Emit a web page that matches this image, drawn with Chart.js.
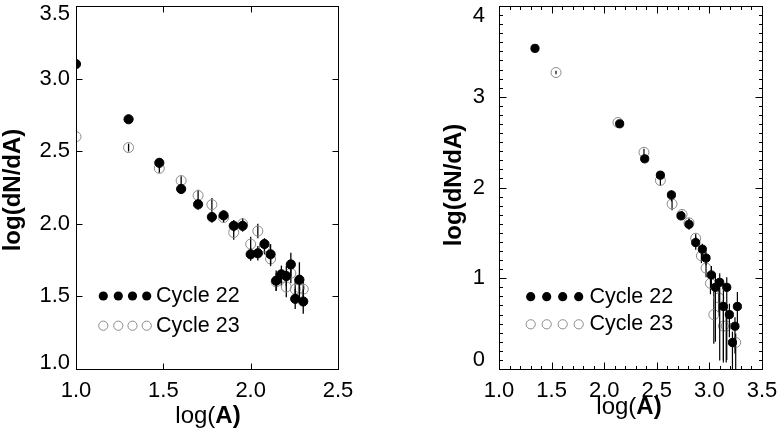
<!DOCTYPE html>
<html><head><meta charset="utf-8">
<script src="https://cdn.jsdelivr.net/npm/chart.js@4/dist/chart.umd.min.js"></script>
<style>
html,body{margin:0;padding:0;background:#fff;}
#wrap{position:relative;width:779px;height:431px;overflow:hidden;}
canvas{position:absolute;left:0;top:0;}
</style></head><body>
<div id="wrap"><canvas id="c1" width="779" height="431" style="width:779px;height:431px"></canvas><canvas id="c2" width="779" height="431" style="width:779px;height:431px"></canvas></div>
<script>
// ---------- Left panel data ----------
const leftLogA      = [1.000,1.301,1.477,1.602,1.699,1.778,1.845,1.903,1.954,2.000,2.041,2.079,2.114,2.146,2.176,2.204,2.230,2.255,2.279,2.301];
const leftCycle22   = [3.10,2.72,2.42,2.24,2.134,2.047,2.058,1.986,1.986,1.79,1.797,1.861,1.79,1.608,1.652,1.64,1.72,1.483,1.615,1.465];
const leftCycle22Er = [0,0.005,0.01,0.034,0.037,0.04,0.034,0.04,0.04,0.045,0.05,0.04,0.07,0.07,0.06,0.07,0.08,0.07,0.12,0.085];
const leftCycle23   = [2.60,2.525,2.382,2.298,2.195,2.132,2.043,1.94,2.00,1.86,1.95,1.84,1.758,1.60,1.63,1.565,1.66,1.55,1.56,1.55];
const leftCycle23Er = [0,0.027,0.03,0.03,0.04,0.045,0.035,0.05,0.04,0.05,0.05,0.05,0.05,0.06,0.06,0.07,0.07,0.07,0.08,0.07];

// ---------- Right panel data ----------
const rightLogA22     = [1.342,2.147,2.385,2.534,2.639,2.730,2.806,2.870,2.933,2.968,3.019,3.057,3.098,3.133,3.165,3.190,3.219,3.243,3.266];
const rightCycle22    = [3.533,2.702,2.316,2.136,1.918,1.688,1.594,1.393,1.320,1.222,1.036,0.900,0.955,0.689,0.900,0.599,0.292,0.471,0.689];
const rightCycle22Up  = [0,0.01,0.03,0.03,0.05,0.04,0.06,0.07,0.06,0.07,0.10,0.15,0.10,0.18,0.11,0.12,0.12,0.10,0.16];
const rightCycle22Dn  = [0,0.01,0.03,0.04,0.07,0.05,0.06,0.08,0.07,0.08,0.12,0.60,0.86,0.59,0.80,0.25,0.45,0.30,0.22];
const rightLogA23     = [1.542,2.131,2.378,2.534,2.645,2.740,2.806,2.870,2.924,2.968,3.010,3.042,3.090,3.133,3.160,3.250];
const rightCycle23    = [3.267,2.716,2.388,2.078,1.819,1.703,1.611,1.441,1.247,1.112,0.944,0.599,0.784,0.473,0.473,0.292];
const rightCycle23Up  = [0.02,0.01,0.04,0.05,0.06,0.04,0.05,0.05,0.07,0.08,0.10,0.27,0.15,0.20,0.20,0.10];
const rightCycle23Dn  = [0.02,0.01,0.04,0.06,0.07,0.04,0.05,0.06,0.08,0.10,0.12,0.32,0.20,0.40,0.40,0.30];

// ---------- Tick labels ----------
const leftXTicks  = [1.0,1.5,2.0,2.5];
const leftXLabels = ['1.0','1.5','2.0','2.5'];
const leftYTicks  = [1.0,1.5,2.0,2.5,3.0,3.5];
const leftYLabels = ['1.0','1.5','2.0','2.5','3.0','3.5'];
const rightXTicks  = [1.0,1.5,2.0,2.5,3.0,3.5];
const rightXLabels = ['1.0','1.5','2.0','2.5','3.0','3.5'];
const rightYTicks  = [0,1,2,3,4];
const rightYLabels = ['0','1','2','3','4'];
const seriesNames = ['Cycle 22','Cycle 23'];
const xTitle = ['log(', 'A)'];
const yTitle = 'log(dN/dA)';

const FONT = "'Liberation Sans', Arial, Helvetica, sans-serif";

function pts(xs, ys){ return xs.map((x,i)=>({x:x, y:ys[i]})); }

const panelPlugin = {
  id: 'panel',
  beforeDatasetDraw(chart, args) {
    const ds = chart.data.datasets[args.index];
    if (!ds.errUp) return;
    const ctx = chart.ctx, a = chart.chartArea, xs = chart.scales.x, ys = chart.scales.y;
    ctx.save();
    ctx.beginPath(); ctx.rect(a.left, a.top, a.right - a.left, a.bottom - a.top); ctx.clip();
    ctx.strokeStyle = '#000'; ctx.lineWidth = ds.errWidth || 1.2;
    ds.data.forEach((p, i) => {
      const up = ds.errUp[i], dn = ds.errDown[i];
      if (!up && !dn) return;
      const px = xs.getPixelForValue(p.x);
      ctx.beginPath();
      ctx.moveTo(px, ys.getPixelForValue(p.y + up));
      ctx.lineTo(px, ys.getPixelForValue(p.y - dn));
      ctx.stroke();
    });
    ctx.restore();
  },
  afterDraw(chart, args, o) {
    const ctx = chart.ctx, a = chart.chartArea, xs = chart.scales.x, ys = chart.scales.y;
    const L = Math.round(a.left)+0.5, R = Math.round(a.right)+0.5, T = Math.round(a.top)+0.5, B = Math.round(a.bottom)+0.5;
    ctx.save();
    ctx.strokeStyle = '#000'; ctx.lineWidth = 1;
    ctx.strokeRect(L, T, R-L, B-T);
    const line = (x1,y1,x2,y2) => { ctx.beginPath(); ctx.moveTo(x1,y1); ctx.lineTo(x2,y2); ctx.stroke(); };
    const xTick = (v, len) => { const px = Math.round(xs.getPixelForValue(v))+0.5; if (px <= L+1 || px >= R-1) return; line(px,B,px,B-len); line(px,T,px,T+len); };
    const yTick = (v, len) => { const py = Math.round(ys.getPixelForValue(v))+0.5; if (py <= T+1 || py >= B-1) return; line(L,py,L+len,py); line(R,py,R-len,py); };
    o.xTicks.forEach(v => xTick(v, o.majorLen));
    o.yTicks.forEach(v => yTick(v, o.majorLen));
    if (o.minorStep) {
      const nx = Math.round((xs.max - xs.min)/o.minorStep);
      for (let k=1;k<nx;k++){ const v = xs.min + k*o.minorStep; if (Math.abs(v/0.5 - Math.round(v/0.5))>1e-6) xTick(v, o.minorLen); }
      const ny = Math.round((ys.max - ys.min)/o.minorStep);
      for (let k=1;k<ny;k++){ const v = ys.min + k*o.minorStep; if (Math.abs(v - Math.round(v))>1e-6) yTick(v, o.minorLen); }
    }
    // tick labels
    ctx.fillStyle = '#000';
    ctx.font = o.tickFont + 'px ' + FONT;
    ctx.textAlign = 'center'; ctx.textBaseline = 'middle';
    o.xTicks.forEach((v,i) => ctx.fillText(o.xLabels[i], xs.getPixelForValue(v), o.xLabelY));
    ctx.textAlign = 'right';
    o.yTicks.forEach((v,i) => {
      let py = ys.getPixelForValue(v);
      if (i === 0) py -= o.bottomShift;
      if (i === o.yTicks.length-1) py += o.topShift;
      ctx.fillText(o.yLabels[i], o.yLabelX, py);
    });
    // x title (mixed weight)
    ctx.textAlign = 'left';
    ctx.font = o.titleFont + 'px ' + FONT;
    const w1 = ctx.measureText(xTitle[0]).width;
    ctx.font = 'bold ' + o.titleFont + 'px ' + FONT;
    const w2 = ctx.measureText(xTitle[1]).width;
    const sx = o.xTitleX - (w1+w2)/2;
    ctx.font = o.titleFont + 'px ' + FONT;
    ctx.fillText(xTitle[0], sx, o.xTitleY);
    ctx.font = 'bold ' + o.titleFont + 'px ' + FONT;
    ctx.fillText(xTitle[1], sx + w1, o.xTitleY);
    // y title
    ctx.save();
    ctx.translate(o.yTitleX, o.yTitleY); ctx.rotate(-Math.PI/2);
    ctx.textAlign = 'center';
    ctx.fillText(yTitle, 0, 0);
    ctx.restore();
    // legend
    o.legend.forEach((it, j) => {
      it.xs.forEach(mx => {
        ctx.beginPath(); ctx.arc(mx, it.y, o.legendR, 0, Math.PI*2);
        if (j === 0) { ctx.fillStyle = '#000'; ctx.fill(); }
        else { ctx.strokeStyle = '#8a8a8a'; ctx.lineWidth = 1; ctx.stroke(); }
      });
      ctx.fillStyle = '#000';
      ctx.font = o.legendFont + 'px ' + FONT;
      ctx.textAlign = 'left'; ctx.textBaseline = 'middle';
      ctx.fillText(seriesNames[j], o.legendTextX, it.y);
    });
    ctx.restore();
  }
};

function makeChart(id, cfg) {
  return new Chart(document.getElementById(id), {
    type: 'scatter',
    data: { datasets: [
      { data: pts(cfg.x22, cfg.y22), errUp: cfg.up22, errDown: cfg.dn22, errWidth: cfg.errW,
        pointRadius: cfg.r22, pointBorderWidth: 1, pointBackgroundColor: '#000', pointBorderColor: '#000', clip: 0 },
      { data: pts(cfg.x23, cfg.y23), errUp: cfg.up23, errDown: cfg.dn23, errWidth: cfg.errW,
        pointRadius: cfg.r23, pointBorderWidth: 1, pointBackgroundColor: 'rgba(0,0,0,0)', pointBorderColor: '#8a8a8a', clip: 0 }
    ]},
    options: {
      responsive: false, animation: false, events: [],
      layout: { padding: cfg.pad },
      scales: {
        x: { type: 'linear', display: false, min: cfg.xmin, max: cfg.xmax },
        y: { type: 'linear', display: false, min: cfg.ymin, max: cfg.ymax }
      },
      plugins: { legend: { display: false }, tooltip: { enabled: false }, panel: cfg.panel }
    },
    plugins: [panelPlugin]
  });
}

makeChart('c1', {
  x22: leftLogA, y22: leftCycle22, up22: leftCycle22Er, dn22: leftCycle22Er,
  x23: leftLogA, y23: leftCycle23, up23: leftCycle23Er, dn23: leftCycle23Er,
  r22: 4.6, r23: 5, errW: 1.3,
  xmin: 1.0, xmax: 2.5, ymin: 1.0, ymax: 3.5,
  pad: { left: 76, right: 441, top: 3, bottom: 62 },
  panel: {
    xTicks: leftXTicks, xLabels: leftXLabels, yTicks: leftYTicks, yLabels: leftYLabels,
    majorLen: 6, minorStep: 0, minorLen: 0,
    tickFont: 22, xLabelY: 391, yLabelX: 70, topShift: 8, bottomShift: 6,
    titleFont: 24, xTitleX: 208, xTitleY: 416, yTitleX: 13, yTitleY: 190,
    legendR: 4.6, legendFont: 21.5, legendTextX: 156,
    legend: [ { y: 296, xs: [103.3,118.3,132.5,146.7] }, { y: 325.7, xs: [103.3,118.3,132.5,146.7] } ]
  }
});

makeChart('c2', {
  x22: rightLogA22, y22: rightCycle22, up22: rightCycle22Up, dn22: rightCycle22Dn,
  x23: rightLogA23, y23: rightCycle23, up23: rightCycle23Up, dn23: rightCycle23Dn,
  r22: 4.1, r23: 5, errW: 1.2,
  xmin: 1.0, xmax: 3.5, ymin: 0, ymax: 4,
  pad: { left: 499, right: 17, top: 3, bottom: 62 },
  panel: {
    xTicks: rightXTicks, xLabels: rightXLabels, yTicks: rightYTicks, yLabels: rightYLabels,
    majorLen: 7, minorStep: 0.1, minorLen: 3.5,
    tickFont: 22, xLabelY: 391, yLabelX: 485, topShift: 9.5, bottomShift: 9,
    titleFont: 24, xTitleX: 629, xTitleY: 407.5, yTitleX: 454, yTitleY: 185,
    legendR: 4.6, legendFont: 21.5, legendTextX: 589.5,
    legend: [ { y: 296.7, xs: [530.7,546.7,562.7,578.7] }, { y: 324.3, xs: [530.7,546.7,562.7,578.7] } ]
  }
});
</script>
</body></html>
